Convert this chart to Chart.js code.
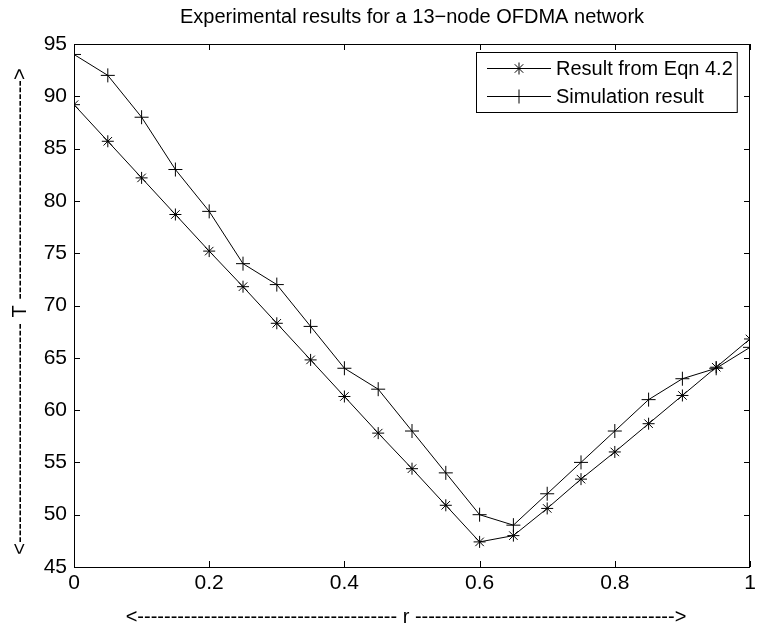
<!DOCTYPE html>
<html>
<head>
<meta charset="utf-8">
<script src="https://cdn.jsdelivr.net/npm/chart.js@4.4.1/dist/chart.umd.min.js"></script>
<style>
  html, body { margin: 0; padding: 0; background: #fff; }
  #wrap { width: 758px; height: 627px; }
</style>
</head>
<body>
<div id="wrap"><canvas id="grafico" width="758" height="627"></canvas></div>
<script>
// dados
const rValues = [0, 0.05, 0.1, 0.15, 0.2, 0.25, 0.3, 0.35, 0.4, 0.45, 0.5,
  0.55, 0.6, 0.65, 0.7, 0.75, 0.8, 0.85, 0.9, 0.95, 1];
const eqnValues = [89.2, 85.7, 82.2, 78.7, 75.2, 71.8, 68.3, 64.8, 61.3, 57.8, 54.4,
  50.9, 47.4, 48.0, 50.6, 53.4, 56.0, 58.7, 61.4, 64.1, 66.8];
const simValues = [94, 92, 88, 83, 79, 74, 72, 68, 64, 62, 58,
  54, 50, 49, 52, 55, 58, 61, 63, 64, 66];
const seriesNames = ['Result from Eqn 4.2', 'Simulation result'];
const xTicks = [0, 0.2, 0.4, 0.6, 0.8, 1];
const yTicks = [45, 50, 55, 60, 65, 70, 75, 80, 85, 90, 95];
const titleText = 'Experimental results for a 13\u2212node OFDMA network';
const xLabel = 'r';
const yLabel = 'T';

const fonte = 'Arial, "Liberation Sans", sans-serif';

function rotuloSeta(ctx, meio, largura) {
  // monta "<----- T ----->" com a largura desejada
  let n = 1;
  let s = '';
  while (true) {
    const d = '-'.repeat(n);
    const t = '<' + d + ' ' + meio + ' ' + d + '>';
    if (ctx.measureText(t).width > largura) break;
    s = t;
    n++;
  }
  return s;
}

const moldura = {
  id: 'moldura',
  afterDatasetsDraw(chart) {
    const { ctx, chartArea: a, scales } = chart;
    ctx.save();
    ctx.strokeStyle = '#000';
    ctx.fillStyle = '#000';
    ctx.lineWidth = 1;

    // caixa dos eixos
    ctx.strokeRect(a.left + 0.5, a.top + 0.5, a.right - a.left - 1, a.bottom - a.top);

    // marcas para dentro, nos quatro lados
    const tl = 6;
    ctx.beginPath();
    xTicks.forEach((v) => {
      const px = Math.round(scales.x.getPixelForValue(v)) + 0.5;
      ctx.moveTo(px, a.bottom); ctx.lineTo(px, a.bottom - tl);
      ctx.moveTo(px, a.top); ctx.lineTo(px, a.top + tl);
    });
    yTicks.forEach((v) => {
      const py = Math.round(scales.y.getPixelForValue(v)) + 0.5;
      ctx.moveTo(a.left, py); ctx.lineTo(a.left + tl, py);
      ctx.moveTo(a.right, py); ctx.lineTo(a.right - tl, py);
    });
    ctx.stroke();

    // legenda
    ctx.font = '20px ' + fonte;
    const larguraTexto = Math.max(...seriesNames.map((n) => ctx.measureText(n).width));
    const bw = 11 + 64 + 5 + larguraTexto + 4;
    const bh = 60;
    const bx = Math.round(a.right - 13 - bw);
    const by = Math.round(a.top + 8);
    ctx.fillStyle = '#fff';
    ctx.fillRect(bx, by, bw, bh);
    ctx.fillStyle = '#000';
    ctx.strokeRect(bx + 0.5, by + 0.5, bw, bh);
    chart.data.datasets.forEach((ds, i) => {
      const ly = Math.round(by + 16 + i * 28) + 0.5;
      ctx.beginPath();
      ctx.moveTo(bx + 11, ly);
      ctx.lineTo(bx + 75, ly);
      ctx.stroke();
      Chart.helpers.drawPoint(ctx, {
        pointStyle: ds.pointStyle,
        radius: ds.pointRadius,
        borderWidth: 1,
      }, bx + 43, ly);
      ctx.textBaseline = 'middle';
      ctx.textAlign = 'left';
      ctx.fillText(ds.label, bx + 80, ly + 1);
    });

    // rótulos dos eixos
    ctx.font = '20px ' + fonte;
    ctx.textAlign = 'center';
    ctx.textBaseline = 'middle';
    const cx = (a.left + a.right) / 2;
    const cy = (a.top + a.bottom) / 2;
    ctx.fillText(rotuloSeta(ctx, xLabel, 565), cx - 6, 617);
    ctx.save();
    ctx.translate(20, cy + 6);
    ctx.rotate(-Math.PI / 2);
    ctx.fillText(rotuloSeta(ctx, yLabel, 488), 0, 0);
    ctx.restore();

    ctx.restore();
  },
};

const ctx = document.getElementById('grafico').getContext('2d');
const grafico = new Chart(ctx, {
  type: 'line',
  data: {
    datasets: [
      {
        label: seriesNames[0],
        data: rValues.map((r, i) => ({ x: r, y: eqnValues[i] })),
        borderColor: '#000',
        backgroundColor: '#000',
        borderWidth: 1,
        pointStyle: 'star',
        pointRadius: 6,
        pointBorderWidth: 1,
        pointBorderColor: '#000',
        tension: 0,
      },
      {
        label: seriesNames[1],
        data: rValues.map((r, i) => ({ x: r, y: simValues[i] })),
        borderColor: '#000',
        backgroundColor: '#000',
        borderWidth: 1,
        pointStyle: 'cross',
        pointRadius: 7,
        pointBorderWidth: 1,
        pointBorderColor: '#000',
        tension: 0,
      },
    ],
  },
  options: {
    responsive: false,
    devicePixelRatio: 1,
    animation: false,
    layout: { padding: { left: 0, right: 0, top: 0, bottom: 0 } },
    scales: {
      x: {
        type: 'linear',
        min: 0,
        max: 1,
        afterBuildTicks: (s) => { s.ticks = xTicks.map((v) => ({ value: v })); },
        afterFit: (s) => { s.height = 60; s.paddingLeft = 0; s.paddingRight = 0; },
        grid: { display: false, drawTicks: false },
        border: { display: false },
        ticks: {
          color: '#000',
          font: { family: fonte, size: 21 },
          padding: 4,
          maxRotation: 0,
          callback: (v) => String(v),
        },
      },
      y: {
        type: 'linear',
        min: 45,
        max: 95,
        afterBuildTicks: (s) => { s.ticks = yTicks.map((v) => ({ value: v })); },
        afterFit: (s) => { s.width = 74; s.paddingTop = 0; s.paddingBottom = 0; },
        grid: { display: false, drawTicks: false },
        border: { display: false },
        ticks: {
          color: '#000',
          font: { family: fonte, size: 21 },
          padding: 7,
          callback: (v) => String(v),
        },
      },
    },
    plugins: {
      legend: { display: false },
      tooltip: { enabled: false },
      title: {
        display: true,
        text: titleText,
        fullSize: false,
        color: '#000',
        font: { family: fonte, size: 20, weight: 'normal' },
        padding: { top: 5, bottom: 15 },
      },
    },
  },
  plugins: [moldura],
});
</script>
</body>
</html>
